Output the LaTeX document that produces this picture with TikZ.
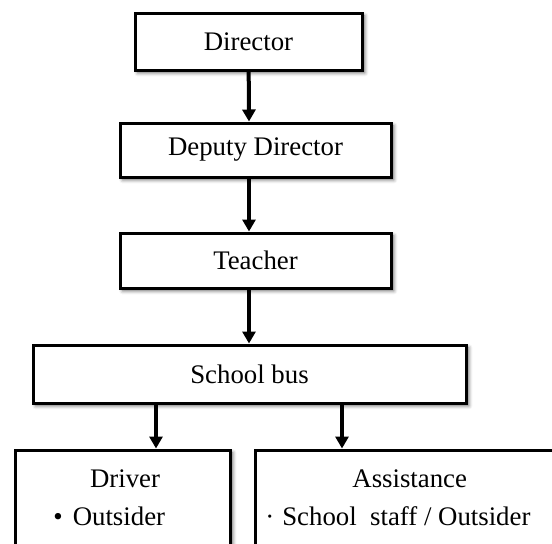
\documentclass[tikz,border=0pt]{standalone}
\usepackage{fontspec}
\setmainfont{Liberation Serif}
\usetikzlibrary{arrows.meta,shadows.blur}

\begin{document}
\begin{tikzpicture}[x=0.5pt,y=-0.5pt]
            \tikzstyle{box}=[rectangle, draw = black, line width=1.5pt, fill=white, inner sep=0pt, font=\fontsize{13.4}{15}\selectfont, blur shadow={shadow xshift=1.4pt, shadow yshift=-1.4pt, shadow blur steps=4, shadow opacity=60}]
            \tikzstyle{txt}=[inner sep=0pt, font=\fontsize{13.4}{15}\selectfont]
            \tikzstyle{connect}=[line width=2pt, -{Triangle[width=6.5pt,length=6pt]}]
            \clip (0,0) rectangle (552,543);
            \node[box, minimum width=113.5pt, minimum height=28.5pt] (dir) at (248.5,41.5){Director};
            \node[box, minimum width=135.5pt, minimum height=27pt] (dep) at (255.5,150){Deputy Director};
            \node[box, minimum width=135.5pt, minimum height=27.5pt] (tea) at (255.5,260.5){Teacher};
            \node[box, minimum width=216.5pt, minimum height=29pt] (bus) at (249.5,374){School bus};

            \node[box, minimum width=107.5pt, minimum height=65pt] (drv) at (122.5,515){};
            \node[box, minimum width=162.5pt, minimum height=65pt] (ass) at (417.5,515){};
            \node[txt] (drvT) at (125,479){Driver};
            \node[txt, anchor=west] (drvL) at (53,516){\textbullet\hspace{5pt}Outsider};
            \node[txt, anchor=west] (assT) at (352,479){Assistance};
            \node[txt, anchor=west] (assL) at (265,516){·\hspace{4pt}School\ \ staff / Outsider};

            % arrow lines
            \coordinate (m) at (249,0);
            \coordinate (l) at (156,0);
            \coordinate (r) at (342,0);
            \path (dir) edge [connect] (dep.north -| m);
            \path (dep.south -| m) edge [connect] (tea.north -| m);
            \path (tea.south -| m) edge [connect] (bus.north -| m);
            \path (bus.south -| l) edge [connect] (drv.north -| l);
            \path (bus.south -| r) edge [connect] (ass.north -| r);
\end{tikzpicture}
\end{document}
